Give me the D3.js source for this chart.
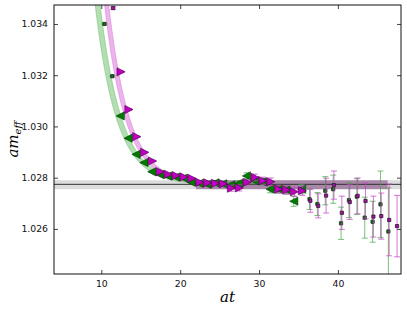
<!DOCTYPE html>
<html>
<head>
<meta charset="utf-8">
<script src="https://cdn.jsdelivr.net/npm/d3@7"></script>
<style>
body { margin: 0; background: #fff; }
text { font-family: "DejaVu Sans", sans-serif; }
</style>
</head>
<body>
<svg id="chart" width="407" height="311"></svg>
<script>
// effective mass, two correlators (green = left triangles, magenta = right triangles)
var tGreen = [10.4, 11.4, 12.4, 13.4, 14.4, 15.4, 16.4, 17.4, 18.4, 19.4, 20.4, 21.4, 22.4,
    23.4, 24.4, 25.4, 26.4, 27.4, 28.4, 29.4, 30.4, 31.4, 32.4, 33.4, 34.4, 35.4, 36.4,
    37.4, 38.4, 39.4, 40.4, 41.4, 42.4, 43.4, 44.4, 45.4, 46.4];
var mGreen = [1.03400, 1.03196, 1.03041, 1.02954, 1.02891, 1.02859, 1.02823, 1.02812, 1.02806,
    1.02802, 1.02798, 1.02782, 1.02778, 1.02774, 1.02780, 1.02776, 1.02772, 1.02778, 1.02807,
    1.02788, 1.02784, 1.02755, 1.02755, 1.02752, 1.02708, 1.02755, 1.02716, 1.02697, 1.02749,
    1.02755, 1.02622, 1.02712, 1.02726, 1.02644, 1.02628, 1.02696, 1.02590];
var errGreen = [0.00003, 0.00003, 0.00003, 0.00003, 0.00003, 0.00003, 0.00003, 0.00003, 0.00004,
    0.00004, 0.00005, 0.00005, 0.00006, 0.00006, 0.00007, 0.00008, 0.00009, 0.0001, 0.00012,
    0.00012, 0.00013, 0.00014, 0.00015, 0.00016, 0.0002, 0.00018, 0.0004, 0.00045, 0.00055,
    0.00055, 0.00063, 0.00068, 0.0007, 0.0008, 0.0008, 0.0013, 0.0017];

var tMagenta = [11.5, 12.5, 13.5, 14.5, 15.5, 16.5, 17.5, 18.5, 19.5, 20.5, 21.5, 22.5, 23.5,
    24.5, 25.5, 26.5, 27.5, 28.5, 29.5, 30.5, 31.5, 32.5, 33.5, 34.5, 35.5, 36.5, 37.5, 38.5,
    39.5, 40.5, 41.5, 42.5, 43.5, 44.5, 45.5, 46.5, 47.5];
var mMagenta = [1.03462, 1.03213, 1.03066, 1.02960, 1.02899, 1.02865, 1.02823, 1.02813, 1.02808,
    1.02803, 1.02797, 1.02782, 1.02780, 1.02778, 1.02776, 1.02759, 1.02760, 1.02782, 1.02801,
    1.02788, 1.02784, 1.02755, 1.02752, 1.02745, 1.02749, 1.02710, 1.02690, 1.02730, 1.02771,
    1.02663, 1.02705, 1.02729, 1.02709, 1.02648, 1.02650, 1.02635, 1.02611];
var errMagenta = [0.00005, 0.00003, 0.00003, 0.00003, 0.00003, 0.00003, 0.00003, 0.00004, 0.00004,
    0.00004, 0.00004, 0.00006, 0.00006, 0.00006, 0.00006, 0.00012, 0.00012, 0.0001, 0.00013,
    0.00014, 0.00015, 0.00015, 0.00016, 0.00018, 0.00018, 0.00045, 0.00047, 0.00068, 0.00055,
    0.00065, 0.00068, 0.0007, 0.0007, 0.0008, 0.0009, 0.0014, 0.0012];

// fit ranges (triangles inside, small squares outside)
var fitRangeGreen = [12, 36];
var fitRangeMagenta = [12, 36];
// fit curves: [E0, A, dE, t0]
var fitGreen = [1.02774, 0.0059, 0.37, 10];
var fitMagenta = [1.02774, 0.0062, 0.38, 11];
// plateau: [central, low, high], purple band t range
var plateau = [1.02774, 1.02755, 1.0279];
var plateauRange = [22, 46.3];

var xTicks = [10, 20, 30, 40];
var yTicks = [1.026, 1.028, 1.030, 1.032, 1.034];

var margin = {left: 54, right: 6, top: 5, bottom: 37};
var width = 407, height = 311;

var svg = d3.select('#chart');

var x = d3.scaleLinear().domain([4, 48]).range([margin.left, width - margin.right]);
var y = d3.scaleLinear().domain([1.02424, 1.03474]).range([height - margin.bottom, margin.top]);

svg.append('clipPath').attr('id', 'clip')
    .append('rect')
    .attr('x', x.range()[0]).attr('y', y.range()[1])
    .attr('width', x.range()[1] - x.range()[0])
    .attr('height', y.range()[0] - y.range()[1]);

var plot = svg.append('g').attr('clip-path', 'url(#clip)');

// plateau band and line
plot.append('rect')
    .attr('x', x.range()[0]).attr('width', x.range()[1] - x.range()[0])
    .attr('y', y(plateau[2])).attr('height', y(plateau[1]) - y(plateau[2]))
    .attr('fill', '#dcdcdc');
plot.append('rect')
    .attr('x', x(plateauRange[0])).attr('width', x(plateauRange[1]) - x(plateauRange[0]))
    .attr('y', y(plateau[2])).attr('height', y(plateau[1]) - y(plateau[2]))
    .attr('fill', '#6a1f6a').attr('fill-opacity', 0.45);
plot.append('line')
    .attr('x1', x.range()[0]).attr('x2', x.range()[1])
    .attr('y1', y(plateau[0])).attr('y2', y(plateau[0]))
    .attr('stroke', '#333').attr('stroke-width', 1);

function fitValue(p, t) {
    return p[0] + p[1] * Math.exp(-p[2] * (t - p[3]));
}

function drawBand(p, shift, err, fill, edge) {
    var ts = d3.range(9.0, 28.0, 0.05);
    var area = d3.area()
        .x(function(t) { return x(t); })
        .y0(function(t) { return y(fitValue(p, t + shift) - err); })
        .y1(function(t) { return y(fitValue(p, t - shift) + err); });
    plot.append('path')
        .attr('d', area(ts))
        .attr('fill', fill).attr('fill-opacity', 0.8)
        .attr('stroke', edge).attr('stroke-width', 0.8).attr('stroke-opacity', 0.7);
}

drawBand(fitGreen, 0.3, 0.00003, '#9fd69f', '#76c076');
drawBand(fitMagenta, 0.25, 0.00003, '#e8a0e8', '#d77fd7');

function drawSeries(ts, ms, errs, range, fill, edge, barColor, dir) {
    var pts = ts.map(function(t, i) {
        return {t: t, m: ms[i], e: errs[i], inFit: t >= range[0] && t <= range[1]};
    });
    var bars = plot.append('g')
        .attr('stroke', barColor).attr('stroke-width', 1).attr('stroke-opacity', 0.7);
    pts.forEach(function(d) {
        var cx = x(d.t);
        bars.append('line')
            .attr('x1', cx).attr('x2', cx)
            .attr('y1', y(d.m - d.e)).attr('y2', y(d.m + d.e));
        [d.m - d.e, d.m + d.e].forEach(function(v) {
            bars.append('line')
                .attr('x1', cx - 3).attr('x2', cx + 3)
                .attr('y1', y(v)).attr('y2', y(v));
        });
    });
    var s = 4.1;
    var tri = dir > 0
        ? [[s, 0], [-s, s], [-s, -s]]
        : [[-s, 0], [s, s], [s, -s]];
    plot.append('g').selectAll('path')
        .data(pts)
        .enter()
        .append('path')
        .attr('transform', function(d) { return 'translate(' + x(d.t) + ',' + y(d.m) + ')'; })
        .attr('d', function(d) {
            if (d.inFit) return 'M' + tri.join('L') + 'Z';
            return 'M-1.6,-1.6H1.6V1.6H-1.6Z';
        })
        .attr('fill', fill)
        .attr('stroke', function(d) { return d.inFit ? edge : '#2a2a2a'; })
        .attr('stroke-width', function(d) { return d.inFit ? 0.6 : 0.9; });
}

drawSeries(tGreen, mGreen, errGreen, fitRangeGreen, '#007a00', '#033a03', '#3ea83e', -1);
drawSeries(tMagenta, mMagenta, errMagenta, fitRangeMagenta, '#bf00bf', '#4a004a', '#c43cc4', 1);

// axes, ticks inside on all four sides
var tickLen = 4;
var axisBottom = d3.axisBottom(x).tickValues(xTicks).tickSize(-tickLen).tickPadding(6)
    .tickFormat(d3.format('d'));
var axisLeft = d3.axisLeft(y).tickValues(yTicks).tickSize(-tickLen).tickPadding(6)
    .tickFormat(d3.format('.3f'));

var gx = svg.append('g').attr('transform', 'translate(0,' + y.range()[0] + ')').call(axisBottom);
var gy = svg.append('g').attr('transform', 'translate(' + x.range()[0] + ',0)').call(axisLeft);
var gxt = svg.append('g').attr('transform', 'translate(0,' + y.range()[1] + ')')
    .call(d3.axisTop(x).tickValues(xTicks).tickSize(-tickLen).tickFormat(''));
var gyr = svg.append('g').attr('transform', 'translate(' + x.range()[1] + ',0)')
    .call(d3.axisRight(y).tickValues(yTicks).tickSize(-tickLen).tickFormat(''));

[gx, gy, gxt, gyr].forEach(function(g) {
    g.select('.domain').remove();
    g.selectAll('.tick line').attr('stroke', '#444');
    g.selectAll('text').attr('font-family', '"DejaVu Sans", sans-serif')
        .attr('font-size', 9.3).attr('fill', '#111');
});

svg.append('rect')
    .attr('x', x.range()[0]).attr('y', y.range()[1])
    .attr('width', x.range()[1] - x.range()[0])
    .attr('height', y.range()[0] - y.range()[1])
    .attr('fill', 'none').attr('stroke', '#111').attr('stroke-width', 1);

// axis labels
svg.append('text')
    .attr('x', (x.range()[0] + x.range()[1]) / 2).attr('y', 302)
    .attr('text-anchor', 'middle')
    .style('font-family', '"DejaVu Serif", serif').style('font-style', 'italic')
    .style('font-size', '15px')
    .text('at');

var yl = svg.append('text')
    .attr('transform', 'translate(18,' + ((y.range()[0] + y.range()[1]) / 2) + ') rotate(-90)')
    .attr('text-anchor', 'middle')
    .style('font-family', '"DejaVu Serif", serif').style('font-style', 'italic')
    .style('font-size', '15px');
yl.append('tspan').text('am');
yl.append('tspan').attr('dy', 3).style('font-size', '10px').text('eff');
</script>
</body>
</html>
